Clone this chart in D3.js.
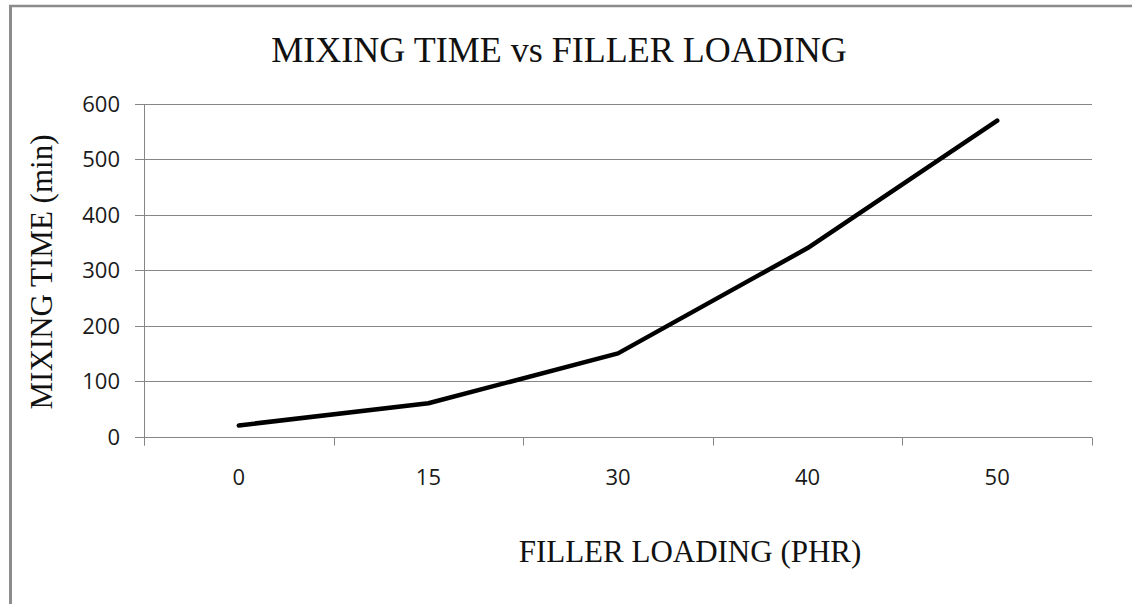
<!DOCTYPE html>
<html>
<head>
<meta charset="utf-8">
<script src="https://cdn.jsdelivr.net/npm/d3@7"></script>
<style>
  html, body { margin: 0; padding: 0; background: #fff; }
  svg { display: block; }
</style>
</head>
<body>
<svg id="chart" width="1132" height="604"></svg>
<script>
// ---- data ----
const categories = ["0", "15", "30", "40", "50"];
const mixingTime = [20, 60, 150, 340, 570];
const yTicks = [0, 100, 200, 300, 400, 500, 600];
const titleText = "MIXING TIME vs FILLER LOADING";
const xLabelText = "FILLER LOADING (PHR)";
const yLabelText = "MIXING TIME (min)";

// ---- layout ----
const W = 1132, H = 604;
const plot = { left: 144, right: 1092, top: 104, bottom: 436.5 };
const gridColor = "#868686";
const serif = "'Liberation Serif', 'Times New Roman', serif";
const sans = "'Open Sans', 'DejaVu Sans', sans-serif";

const svg = d3.select("#chart");

// outer frame (left & top edges visible)
svg.append("line").attr("x1", 10.5).attr("x2", 10.5).attr("y1", 5).attr("y2", H)
  .attr("stroke", "#8c8c8c").attr("stroke-width", 3);
svg.append("line").attr("x1", 9).attr("x2", W).attr("y1", 6).attr("y2", 6)
  .attr("stroke", "#8c8c8c").attr("stroke-width", 2.5);

const x = d3.scaleBand().domain(categories).range([plot.left, plot.right]).paddingInner(0).paddingOuter(0);
const y = d3.scaleLinear().domain([0, 600]).range([plot.bottom, plot.top]);

// gridlines + y axis ticks
const yAxis = d3.axisLeft(y).tickValues(yTicks).tickSize(9).tickPadding(15).tickFormat(d3.format("d"));
const gy = svg.append("g").attr("transform", `translate(${plot.left},0)`).call(yAxis);
gy.select(".domain").remove();
gy.selectAll(".tick line").attr("stroke", gridColor).attr("x2", -9);
gy.selectAll(".tick text").attr("font-family", sans).attr("font-size", 22).attr("fill", "#1a1a1a");

svg.append("g").selectAll("line").data(yTicks).join("line")
  .attr("x1", plot.left).attr("x2", plot.right)
  .attr("y1", d => Math.round(y(d)) + 0.5).attr("y2", d => Math.round(y(d)) + 0.5)
  .attr("stroke", gridColor).attr("stroke-width", 1);
gy.selectAll(".tick").attr("transform", d => `translate(0,${Math.round(y(d)) + 0.5})`);

// vertical axis line
svg.append("line").attr("x1", plot.left + 0.5).attr("x2", plot.left + 0.5)
  .attr("y1", plot.top).attr("y2", plot.bottom + 9)
  .attr("stroke", gridColor).attr("stroke-width", 1);

// x axis: ticks at band boundaries
const boundaries = categories.map(c => x(c)).concat([plot.right]);
svg.append("g").selectAll("line").data(boundaries).join("line")
  .attr("x1", d => Math.round(d) + 0.5).attr("x2", d => Math.round(d) + 0.5)
  .attr("y1", Math.round(plot.bottom) + 0.5).attr("y2", plot.bottom + 9)
  .attr("stroke", gridColor).attr("stroke-width", 1);

const xAxis = d3.axisBottom(x).tickSize(0).tickPadding(33);
const gx = svg.append("g").attr("transform", `translate(0,${plot.bottom})`).call(xAxis);
gx.select(".domain").remove();
gx.selectAll(".tick text").attr("font-family", sans).attr("font-size", 22).attr("fill", "#1a1a1a");

// line
const line = d3.line()
  .x((d, i) => x(categories[i]) + x.bandwidth() / 2)
  .y(d => y(d));
svg.append("path").datum(mixingTime)
  .attr("d", line)
  .attr("fill", "none").attr("stroke", "#000").attr("stroke-width", 4.5)
  .attr("stroke-linejoin", "round").attr("stroke-linecap", "round");

// title
svg.append("text").attr("x", 559).attr("y", 62).attr("text-anchor", "middle")
  .attr("font-family", serif).attr("font-size", 36).attr("fill", "#111").text(titleText);

// x label
svg.append("text").attr("x", 690).attr("y", 562).attr("text-anchor", "middle")
  .attr("font-family", serif).attr("font-size", 31).attr("fill", "#111").text(xLabelText);

// y label
svg.append("text").attr("transform", "translate(52,272) rotate(-90)").attr("text-anchor", "middle")
  .attr("font-family", serif).attr("font-size", 31).attr("fill", "#111").text(yLabelText);
</script>
</body>
</html>
